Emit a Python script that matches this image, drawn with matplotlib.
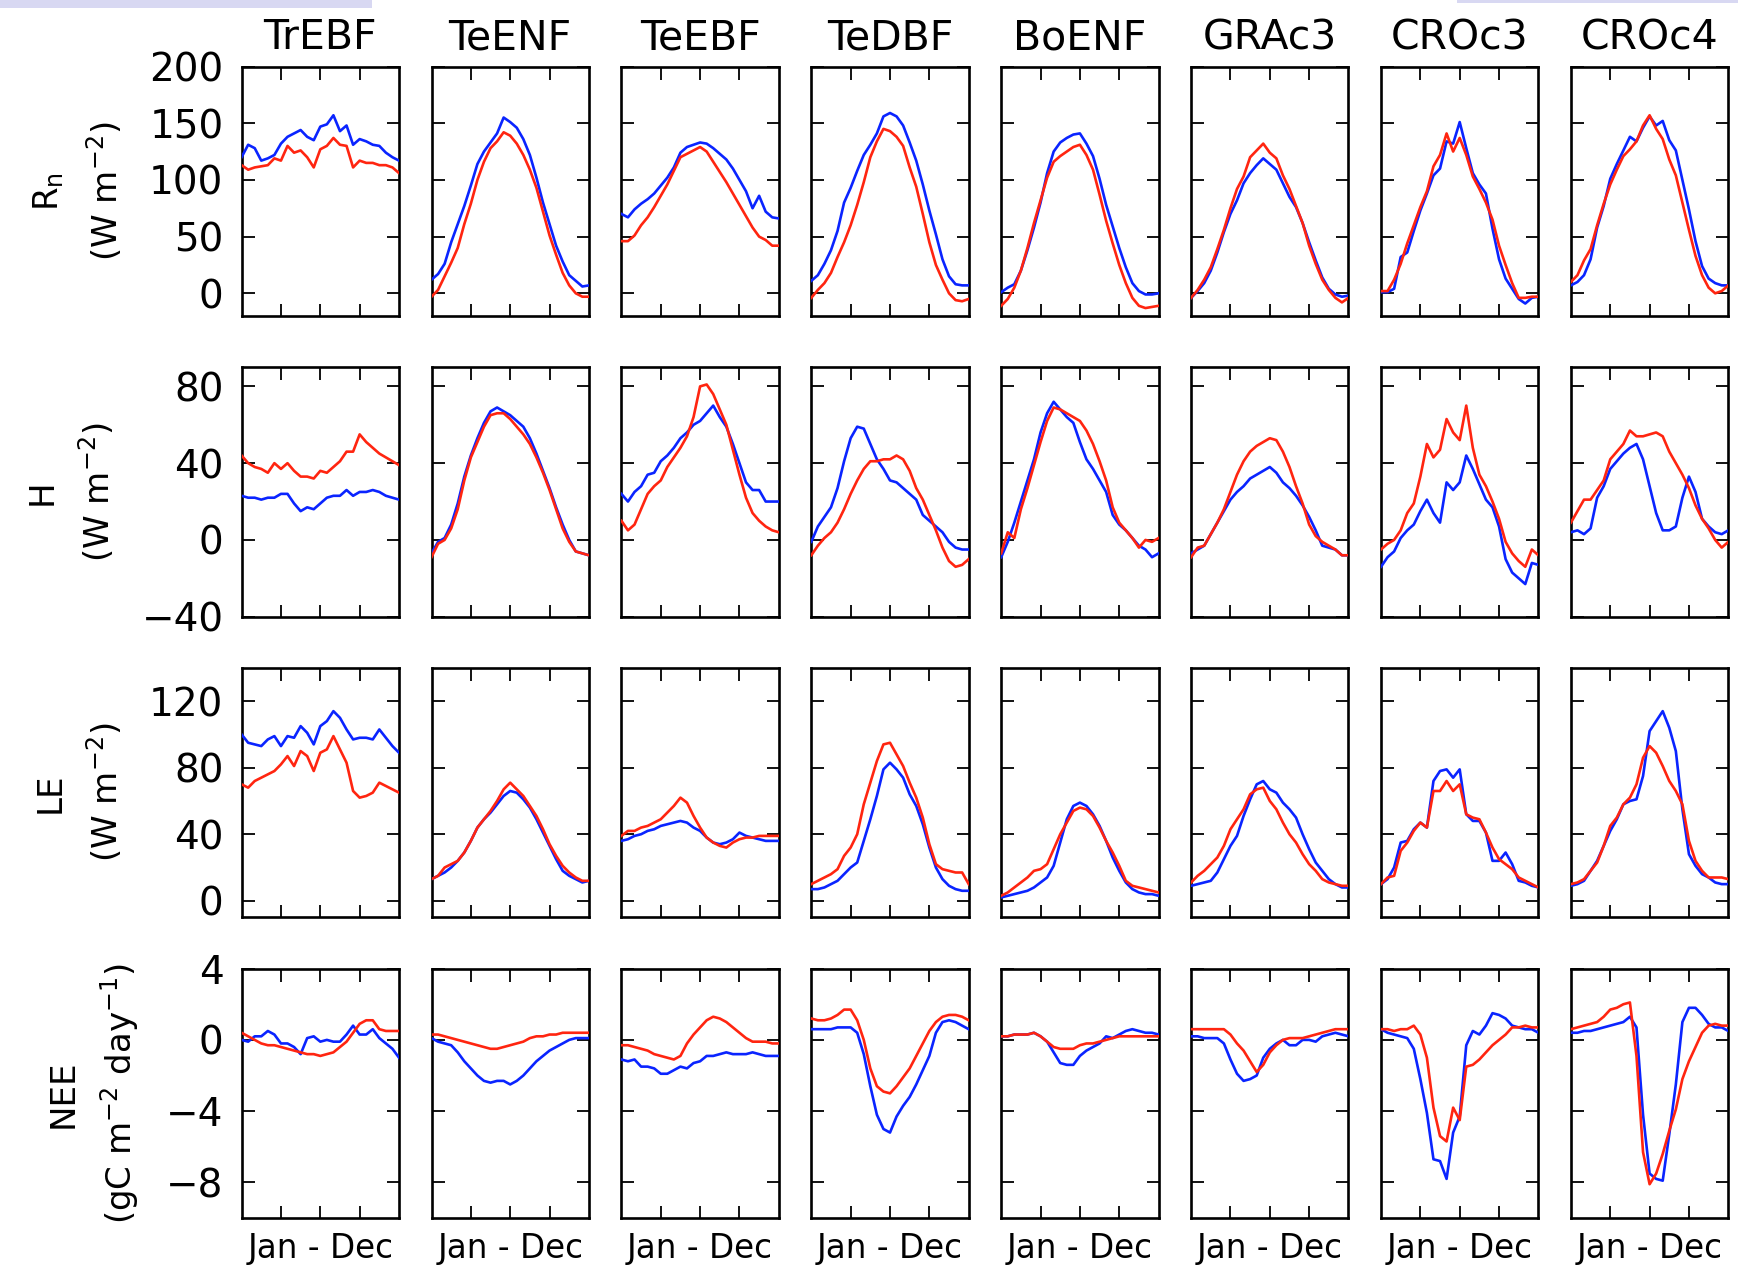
import numpy as np
import matplotlib
matplotlib.use("Agg")
import matplotlib.pyplot as plt
from matplotlib.patches import Rectangle

# ---------------- data ----------------
pfts = ["TrEBF", "TeENF", "TeEBF", "TeDBF", "BoENF", "GRAc3", "CROc3", "CROc4"]
row_names = ["R$_\\mathrm{n}$\n(W m$^{-2}$)", "H\n(W m$^{-2}$)", "LE\n(W m$^{-2}$)",
             "NEE\n(gC m$^{-2}$ day$^{-1}$)"]
xlabel_text = "Jan - Dec"

rn_yticks = [0, 50, 100, 150, 200]
h_yticks = [-40, 0, 40, 80]
le_yticks = [0, 40, 80, 120]
nee_yticks = [-8, -4, 0, 4]

# Net radiation (blue = b, red = r)
rn_trebf_b = [120, 131, 128, 117, 119, 122, 132, 138, 141, 144, 138, 135, 147, 149, 157, 143, 148, 131, 136, 134, 131, 130, 124, 120, 117]
rn_trebf_r = [113, 109, 111, 112, 113, 119, 117, 130, 124, 126, 120, 111, 127, 130, 137, 131, 130, 111, 117, 115, 115, 113, 113, 111, 106]
rn_teenf_b = [12, 17, 26, 45, 61, 77, 95, 114, 125, 133, 141, 155, 151, 146, 136, 122, 102, 80, 61, 42, 28, 16, 11, 6, 7]
rn_teenf_r = [-3, 3, 15, 27, 40, 61, 79, 100, 116, 128, 134, 142, 139, 132, 122, 109, 93, 72, 51, 34, 18, 7, 0, -3, -3]
rn_teebf_b = [70, 67, 74, 79, 83, 88, 95, 102, 111, 124, 129, 131, 133, 132, 128, 123, 118, 110, 100, 90, 75, 86, 72, 67, 66]
rn_teebf_r = [46, 46, 51, 60, 67, 76, 86, 96, 108, 120, 123, 126, 129, 125, 116, 107, 98, 88, 78, 68, 58, 50, 47, 42, 42]
rn_tedbf_b = [11, 16, 26, 38, 55, 80, 93, 108, 122, 131, 141, 156, 159, 156, 148, 133, 117, 96, 73, 52, 30, 15, 8, 7, 7]
rn_tedbf_r = [-4, 3, 9, 18, 32, 45, 60, 78, 98, 120, 134, 145, 143, 138, 130, 111, 94, 70, 45, 25, 12, 0, -6, -7, -5]
rn_boenf_b = [1, 5, 8, 20, 38, 58, 80, 106, 125, 133, 137, 140, 141, 132, 121, 101, 78, 59, 40, 23, 9, 2, -1, -1, 0]
rn_boenf_r = [-11, -5, 5, 20, 40, 62, 82, 102, 116, 121, 125, 129, 131, 122, 109, 87, 64, 44, 25, 9, -4, -11, -13, -12, -11]
rn_grac3_b = [-4, 2, 9, 20, 36, 54, 70, 82, 97, 106, 113, 119, 114, 109, 97, 85, 76, 62, 45, 29, 14, 4, -1, -3, -2]
rn_grac3_r = [-4, 3, 12, 23, 39, 56, 75, 92, 103, 120, 126, 132, 124, 119, 104, 92, 77, 62, 42, 26, 12, 3, -4, -8, -4]
rn_croc3_b = [1, 1, 4, 32, 36, 55, 73, 88, 104, 110, 134, 132, 151, 128, 106, 96, 88, 57, 30, 13, 4, -5, -9, -4, -3]
rn_croc3_r = [2, 2, 12, 26, 44, 60, 76, 90, 112, 122, 141, 125, 137, 122, 103, 92, 80, 65, 42, 25, 9, -4, -4, -3, -3]
rn_croc4_b = [7, 10, 16, 30, 58, 77, 101, 114, 126, 138, 134, 146, 156, 148, 152, 135, 126, 100, 74, 46, 24, 13, 9, 7, 7]
rn_croc4_r = [10, 16, 29, 39, 60, 79, 96, 109, 121, 127, 134, 148, 157, 145, 136, 118, 104, 80, 56, 33, 16, 5, 0, 2, 7]

# Sensible heat
h_trebf_b = [23, 22, 22, 21, 22, 22, 24, 24, 19, 15, 17, 16, 19, 22, 23, 23, 26, 23, 25, 25, 26, 25, 23, 22, 21]
h_trebf_r = [44, 40, 38, 37, 35, 40, 37, 40, 36, 33, 33, 32, 36, 35, 38, 41, 46, 46, 55, 51, 48, 45, 43, 41, 39]
h_teenf_b = [-7, -1, 1, 8, 19, 33, 44, 53, 61, 67, 69, 67, 65, 62, 59, 53, 45, 36, 27, 17, 8, 0, -6, -7, -8]
h_teenf_r = [-9, -2, 0, 6, 16, 31, 43, 51, 59, 65, 66, 66, 63, 59, 55, 50, 43, 35, 26, 16, 6, -1, -6, -7, -8]
h_teebf_b = [24, 20, 25, 28, 34, 35, 41, 44, 48, 53, 56, 60, 62, 66, 70, 64, 59, 50, 40, 30, 26, 26, 20, 20, 20]
h_teebf_r = [10, 5, 8, 16, 24, 28, 31, 38, 43, 48, 54, 64, 80, 81, 76, 68, 60, 47, 34, 22, 14, 10, 7, 5, 4]
h_tedbf_b = [-1, 7, 12, 17, 27, 41, 53, 59, 58, 50, 42, 37, 31, 30, 27, 24, 21, 13, 10, 7, 4, -1, -4, -5, -5]
h_tedbf_r = [-8, -3, 1, 4, 9, 16, 24, 31, 37, 41, 41, 42, 42, 44, 42, 36, 27, 21, 13, 5, -4, -11, -14, -13, -10]
h_boenf_b = [-9, -1, 9, 20, 31, 42, 56, 66, 72, 68, 64, 61, 51, 42, 37, 31, 25, 13, 8, 5, 1, -3, -5, -9, -7]
h_boenf_r = [-7, 4, 1, 16, 27, 39, 51, 62, 69, 68, 66, 64, 62, 57, 50, 41, 31, 17, 9, 5, 1, -4, 0, -1, 1]
h_grac3_b = [-7, -5, -3, 3, 9, 15, 21, 25, 28, 32, 34, 36, 38, 35, 30, 27, 23, 18, 12, 5, -3, -4, -5, -8, -8]
h_grac3_r = [-9, -4, -3, 3, 9, 16, 25, 34, 41, 46, 49, 51, 53, 52, 46, 38, 28, 19, 8, 2, -1, -3, -5, -8, -8]
h_croc3_b = [-14, -9, -6, 1, 5, 8, 15, 21, 14, 9, 30, 26, 30, 44, 37, 29, 21, 17, 7, -10, -17, -20, -23, -12, -13]
h_croc3_r = [-5, -2, 0, 5, 14, 19, 33, 50, 43, 47, 63, 56, 52, 70, 48, 34, 28, 20, 11, -1, -7, -11, -14, -5, -8]
h_croc4_b = [4, 5, 3, 6, 22, 28, 37, 41, 45, 48, 50, 42, 28, 14, 5, 5, 7, 22, 33, 25, 11, 7, 4, 3, 5]
h_croc4_r = [9, 15, 21, 21, 26, 31, 42, 46, 50, 57, 54, 54, 55, 56, 54, 46, 40, 34, 27, 18, 11, 6, 0, -4, -1]

# Latent heat
le_trebf_b = [100, 95, 94, 93, 97, 99, 93, 99, 98, 105, 101, 94, 105, 108, 114, 110, 103, 97, 98, 98, 97, 103, 98, 93, 89]
le_trebf_r = [70, 68, 72, 74, 76, 78, 82, 87, 81, 90, 87, 78, 89, 91, 99, 91, 83, 66, 62, 63, 65, 71, 69, 67, 65]
le_teenf_b = [13, 15, 17, 20, 24, 29, 36, 44, 49, 53, 58, 63, 66, 65, 61, 56, 49, 41, 33, 25, 18, 15, 13, 11, 12]
le_teenf_r = [13, 15, 20, 22, 24, 29, 36, 44, 49, 54, 60, 67, 71, 67, 63, 57, 51, 43, 34, 27, 21, 17, 14, 12, 12]
le_teebf_b = [36, 37, 39, 40, 42, 43, 45, 46, 47, 48, 47, 44, 42, 38, 35, 34, 35, 37, 41, 39, 38, 37, 36, 36, 36]
le_teebf_r = [39, 42, 42, 44, 45, 47, 49, 53, 57, 62, 59, 51, 44, 38, 35, 33, 32, 35, 37, 38, 38, 39, 39, 39, 39]
le_tedbf_b = [7, 7, 8, 10, 12, 16, 20, 23, 36, 49, 63, 79, 83, 79, 74, 64, 57, 46, 32, 20, 13, 9, 7, 6, 6]
le_tedbf_r = [10, 12, 14, 16, 19, 27, 32, 40, 58, 71, 84, 94, 95, 88, 81, 71, 62, 50, 34, 22, 19, 18, 17, 17, 10]
le_boenf_b = [2, 3, 4, 5, 6, 8, 11, 14, 21, 35, 49, 57, 59, 57, 52, 45, 36, 26, 18, 11, 7, 5, 4, 4, 3]
le_boenf_r = [3, 5, 8, 11, 14, 18, 19, 22, 31, 40, 47, 54, 56, 55, 51, 44, 36, 29, 21, 12, 9, 8, 7, 6, 5]
le_grac3_b = [9, 10, 11, 12, 17, 25, 33, 39, 51, 61, 70, 72, 67, 65, 59, 55, 50, 40, 31, 23, 18, 13, 10, 8, 8]
le_grac3_r = [11, 15, 18, 22, 26, 33, 43, 49, 55, 64, 67, 68, 60, 55, 47, 40, 35, 28, 22, 18, 13, 11, 10, 9, 9]
le_croc3_b = [10, 13, 20, 35, 36, 43, 47, 44, 72, 78, 79, 74, 79, 52, 48, 48, 41, 24, 24, 29, 22, 12, 11, 9, 8]
le_croc3_r = [10, 14, 15, 30, 35, 42, 47, 44, 66, 66, 72, 66, 70, 52, 50, 49, 41, 32, 25, 22, 19, 14, 12, 10, 8]
le_croc4_b = [9, 10, 12, 18, 24, 33, 42, 49, 58, 60, 61, 75, 102, 108, 114, 104, 90, 55, 28, 21, 16, 14, 11, 10, 10]
le_croc4_r = [10, 11, 13, 18, 23, 33, 45, 50, 58, 62, 70, 86, 93, 89, 81, 72, 66, 58, 36, 24, 18, 14, 14, 14, 13]

# Net ecosystem exchange
nee_trebf_b = [0.0, -0.1, 0.2, 0.2, 0.5, 0.3, -0.2, -0.2, -0.4, -0.8, 0.1, 0.2, -0.1, 0.0, -0.1, -0.1, 0.3, 0.8, 0.3, 0.3, 0.6, 0.1, -0.2, -0.5, -1.0]
nee_trebf_r = [0.4, 0.2, 0.0, -0.2, -0.3, -0.3, -0.4, -0.5, -0.6, -0.7, -0.8, -0.8, -0.9, -0.8, -0.7, -0.4, -0.1, 0.4, 0.9, 1.1, 1.1, 0.6, 0.5, 0.5, 0.5]
nee_teenf_b = [0.1, -0.1, -0.2, -0.3, -0.7, -1.2, -1.6, -2.0, -2.3, -2.4, -2.3, -2.3, -2.5, -2.3, -2.0, -1.6, -1.2, -0.9, -0.6, -0.4, -0.2, 0.0, 0.1, 0.1, 0.1]
nee_teenf_r = [0.3, 0.3, 0.2, 0.1, 0.0, -0.1, -0.2, -0.3, -0.4, -0.5, -0.5, -0.4, -0.3, -0.2, -0.1, 0.1, 0.2, 0.2, 0.3, 0.3, 0.4, 0.4, 0.4, 0.4, 0.4]
nee_teebf_b = [-1.1, -1.2, -1.1, -1.5, -1.5, -1.6, -1.9, -1.9, -1.7, -1.5, -1.6, -1.3, -1.2, -0.9, -0.9, -0.8, -0.7, -0.8, -0.8, -0.8, -0.7, -0.8, -0.9, -0.9, -0.9]
nee_teebf_r = [-0.3, -0.3, -0.4, -0.5, -0.6, -0.8, -0.9, -1.0, -1.1, -0.9, -0.2, 0.3, 0.7, 1.1, 1.3, 1.2, 1.0, 0.7, 0.4, 0.1, -0.1, -0.1, -0.1, -0.2, -0.2]
nee_tedbf_b = [0.6, 0.6, 0.6, 0.6, 0.7, 0.7, 0.7, 0.4, -0.8, -2.6, -4.2, -5.0, -5.2, -4.3, -3.7, -3.2, -2.5, -1.7, -0.9, 0.4, 1.0, 1.1, 1.0, 0.8, 0.6]
nee_tedbf_r = [1.2, 1.1, 1.1, 1.2, 1.4, 1.7, 1.7, 1.1, 0.0, -1.6, -2.6, -2.9, -3.0, -2.6, -2.1, -1.6, -0.9, -0.2, 0.5, 1.0, 1.3, 1.4, 1.4, 1.3, 1.1]
nee_boenf_b = [0.2, 0.2, 0.3, 0.3, 0.3, 0.4, 0.2, -0.1, -0.7, -1.3, -1.4, -1.4, -0.9, -0.6, -0.4, -0.2, 0.2, 0.1, 0.3, 0.5, 0.6, 0.5, 0.4, 0.4, 0.3]
nee_boenf_r = [0.2, 0.2, 0.3, 0.3, 0.3, 0.4, 0.2, -0.1, -0.4, -0.5, -0.5, -0.5, -0.3, -0.2, -0.2, -0.1, 0.0, 0.1, 0.2, 0.2, 0.2, 0.2, 0.2, 0.2, 0.2]
nee_grac3_b = [0.2, 0.2, 0.1, 0.1, 0.1, -0.2, -1.1, -1.9, -2.3, -2.2, -2.0, -1.0, -0.5, -0.2, 0.0, -0.3, -0.3, 0.0, 0.0, -0.1, 0.2, 0.3, 0.4, 0.3, 0.2]
nee_grac3_r = [0.6, 0.6, 0.6, 0.6, 0.6, 0.6, 0.3, -0.2, -0.6, -1.2, -1.8, -1.4, -0.7, -0.3, 0.0, 0.1, 0.1, 0.1, 0.2, 0.3, 0.4, 0.5, 0.6, 0.6, 0.6]
nee_croc3_b = [0.6, 0.4, 0.3, 0.2, 0.1, -0.5, -2.2, -4.1, -6.7, -6.8, -7.8, -5.2, -4.3, -0.3, 0.5, 0.3, 0.8, 1.5, 1.4, 1.2, 0.8, 0.7, 0.6, 0.6, 0.4]
nee_croc3_r = [0.6, 0.6, 0.5, 0.6, 0.6, 0.8, 0.3, -1.0, -3.8, -5.4, -5.7, -3.8, -4.5, -1.5, -1.4, -1.1, -0.7, -0.3, 0.0, 0.3, 0.7, 0.7, 0.8, 0.7, 0.7]
nee_croc4_b = [0.4, 0.4, 0.5, 0.5, 0.6, 0.7, 0.8, 0.9, 1.0, 1.3, 0.7, -4.2, -7.5, -7.8, -7.9, -5.3, -2.5, 1.0, 1.8, 1.8, 1.4, 0.9, 0.7, 0.7, 0.5]
nee_croc4_r = [0.6, 0.7, 0.8, 0.9, 1.0, 1.3, 1.7, 1.8, 2.0, 2.1, -0.9, -6.3, -8.1, -7.5, -6.4, -5.1, -3.9, -2.2, -1.2, -0.4, 0.4, 0.8, 0.9, 0.8, 0.8]

rows = [
    ([rn_trebf_b, rn_teenf_b, rn_teebf_b, rn_tedbf_b, rn_boenf_b, rn_grac3_b, rn_croc3_b, rn_croc4_b],
     [rn_trebf_r, rn_teenf_r, rn_teebf_r, rn_tedbf_r, rn_boenf_r, rn_grac3_r, rn_croc3_r, rn_croc4_r],
     (-20, 200), rn_yticks),
    ([h_trebf_b, h_teenf_b, h_teebf_b, h_tedbf_b, h_boenf_b, h_grac3_b, h_croc3_b, h_croc4_b],
     [h_trebf_r, h_teenf_r, h_teebf_r, h_tedbf_r, h_boenf_r, h_grac3_r, h_croc3_r, h_croc4_r],
     (-40, 90), h_yticks),
    ([le_trebf_b, le_teenf_b, le_teebf_b, le_tedbf_b, le_boenf_b, le_grac3_b, le_croc3_b, le_croc4_b],
     [le_trebf_r, le_teenf_r, le_teebf_r, le_tedbf_r, le_boenf_r, le_grac3_r, le_croc3_r, le_croc4_r],
     (-10, 140), le_yticks),
    ([nee_trebf_b, nee_teenf_b, nee_teebf_b, nee_tedbf_b, nee_boenf_b, nee_grac3_b, nee_croc3_b, nee_croc4_b],
     [nee_trebf_r, nee_teenf_r, nee_teebf_r, nee_tedbf_r, nee_boenf_r, nee_grac3_r, nee_croc3_r, nee_croc4_r],
     (-10, 4), nee_yticks),
]

# ---------------- figure ----------------
W, H = 1738, 1276
fig = plt.figure(figsize=(W / 100, H / 100), dpi=100)
fig.patch.set_facecolor("white")

# light highlight strips along the top edge
fig.patches.append(Rectangle((0, 1 - 8 / H), 372 / W, 8 / H, transform=fig.transFigure,
                             facecolor="#d8d8f2", edgecolor="none", zorder=0))
fig.patches.append(Rectangle((1457 / W, 1 - 3 / H), (W - 1457) / W, 3 / H, transform=fig.transFigure,
                             facecolor="#d8d8f2", edgecolor="none", zorder=0))

BLUE = "#0a24ff"
RED = "#ff2510"

x0, dx, aw = 241.6, 189.9, 157.4
y0, dy, ah = 66.5, 300.7, 249.5

for r, (blues, reds, ylim, yticks) in enumerate(rows):
    for c in range(8):
        left = (x0 + dx * c) / W
        bottom = 1 - (y0 + dy * r + ah) / H
        ax = fig.add_axes([left, bottom, aw / W, ah / H])
        xb = np.linspace(0, 24, len(blues[c]))
        xr = np.linspace(0, 24, len(reds[c]))
        ax.plot(xb, blues[c], color=BLUE, lw=1.9, zorder=3)
        ax.plot(xr, reds[c], color=RED, lw=1.9, zorder=4)
        ax.set_xlim(0, 24)
        ax.set_ylim(*ylim)
        ax.set_xticks([6, 12, 18])
        ax.set_yticks(yticks)
        ax.tick_params(direction="in", length=9, width=1.3, top=True, right=True,
                       labelbottom=False, labelsize=28, pad=13, colors="black")
        for sp in ax.spines.values():
            sp.set_linewidth(1.9)
        if c == 0:
            ax.set_ylabel(row_names[r], fontsize=24.5, labelpad=18, linespacing=1.55)
        else:
            ax.tick_params(labelleft=False)
        if r == 0:
            ax.set_title(pfts[c], fontsize=29.5, pad=12.5)
        if r == 3:
            ax.set_xlabel(xlabel_text, fontsize=23.5, labelpad=10)

fig.savefig("out.png", dpi=100, facecolor="white")
